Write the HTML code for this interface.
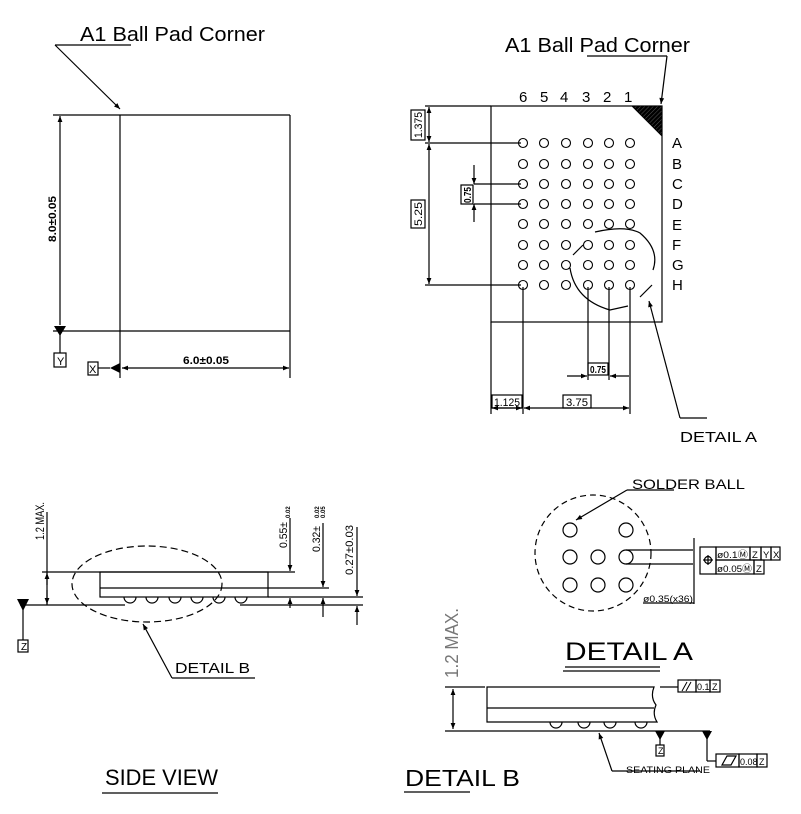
<!DOCTYPE html>
<html><head><meta charset="utf-8"><style>
html,body{margin:0;padding:0;background:#fff;}
svg{display:block;font-family:"Liberation Sans",sans-serif;}
</style></head><body>
<svg width="801" height="814" viewBox="0 0 801 814" xmlns="http://www.w3.org/2000/svg">
<defs>
<marker id="a" viewBox="0 0 10 10" refX="10" refY="5" markerWidth="8" markerHeight="6" orient="auto-start-reverse" markerUnits="userSpaceOnUse"><path d="M0,1 L10,5 L0,9 z" fill="#000"/></marker>
<pattern id="h" width="3" height="3" patternUnits="userSpaceOnUse" patternTransform="rotate(45)"><rect width="3" height="3" fill="#000"/><line x1="0" y1="0" x2="0" y2="3" stroke="#555" stroke-width="1"/></pattern>
<g id="row"><circle cx="523" cy="0" r="4.5"/><circle cx="544" cy="0" r="4.5"/><circle cx="566" cy="0" r="4.5"/><circle cx="588" cy="0" r="4.5"/><circle cx="609" cy="0" r="4.5"/><circle cx="630" cy="0" r="4.5"/></g>
</defs>
<g stroke="#000" stroke-width="1.2" fill="none">
<line x1="55" y1="45" x2="131" y2="45"/>
<line x1="55" y1="45" x2="120" y2="109" marker-end="url(#a)"/>
<line x1="53" y1="115" x2="290" y2="115"/>
<line x1="53" y1="331" x2="290" y2="331"/>
<line x1="120" y1="115" x2="120" y2="378"/>
<line x1="290" y1="115" x2="290" y2="378"/>
<line x1="60" y1="116" x2="60" y2="325" marker-start="url(#a)"/>
<line x1="60" y1="331" x2="60" y2="353"/>
<rect x="54" y="353" width="12" height="14"/>
<rect x="88" y="362" width="10" height="13"/>
<line x1="98" y1="368" x2="110" y2="368"/>
<line x1="122" y1="368" x2="289" y2="368" marker-start="url(#a)" marker-end="url(#a)"/>
</g>
<path d="M54,326 L66,326 L60,336 z" fill="#000"/>
<path d="M110,368 L120,363 L120,373 z" fill="#000"/>
<text x="80" y="41" font-size="20" textLength="185" lengthAdjust="spacingAndGlyphs">A1 Ball Pad Corner</text>
<text x="183" y="364" font-size="11" font-weight="bold" textLength="46" lengthAdjust="spacingAndGlyphs">6.0±0.05</text>
<text transform="translate(56,242) rotate(-90)" font-size="11" font-weight="bold" textLength="46" lengthAdjust="spacingAndGlyphs">8.0±0.05</text>
<text x="57" y="365" font-size="11">Y</text>
<text x="89" y="373" font-size="11">X</text>

<!-- TOP RIGHT VIEW -->
<text x="505" y="52" font-size="20" textLength="185" lengthAdjust="spacingAndGlyphs">A1 Ball Pad Corner</text>
<g stroke="#000" stroke-width="1.2" fill="none">
<line x1="587" y1="56" x2="667" y2="56"/>
<line x1="667" y1="56" x2="661" y2="104" marker-end="url(#a)"/>
<rect x="491" y="106" width="171" height="216"/>
<line x1="425" y1="106" x2="491" y2="106"/>
<line x1="425" y1="143" x2="521" y2="143"/>
<line x1="425" y1="285" x2="521" y2="285"/>
<line x1="429" y1="107" x2="429" y2="142" marker-start="url(#a)" marker-end="url(#a)"/>
<line x1="429" y1="144" x2="429" y2="284" marker-start="url(#a)" marker-end="url(#a)"/>
<rect x="411" y="110" width="14" height="30"/>
<rect x="411" y="200" width="14" height="28"/>
<line x1="474" y1="165" x2="474" y2="184" marker-end="url(#a)"/>
<line x1="474" y1="222" x2="474" y2="204" marker-end="url(#a)"/>
<line x1="474" y1="184" x2="521" y2="184"/>
<line x1="474" y1="204" x2="521" y2="204"/>
<rect x="461" y="185" width="12" height="19"/>
<line x1="491" y1="322" x2="491" y2="414"/>
<line x1="523" y1="287" x2="523" y2="414"/>
<line x1="630" y1="287" x2="630" y2="414"/>
<line x1="588" y1="287" x2="588" y2="380"/>
<line x1="609" y1="287" x2="609" y2="380"/>
<line x1="567" y1="376" x2="587" y2="376" marker-end="url(#a)"/>
<line x1="629" y1="376" x2="610" y2="376" marker-end="url(#a)"/>
<rect x="588" y="363" width="20" height="12"/>
<line x1="492" y1="408" x2="522" y2="408" marker-start="url(#a)" marker-end="url(#a)"/>
<line x1="524" y1="408" x2="629" y2="408" marker-start="url(#a)" marker-end="url(#a)"/>
<rect x="492" y="395" width="30" height="13"/>
<rect x="563" y="395" width="28" height="13"/>
<path d="M595,232 Q625,225 640,233 Q660,250 653,270"/>
<path d="M570,268 Q575,300 610,310 L628,306"/>
<line x1="573" y1="255" x2="583" y2="245"/>
<line x1="640" y1="297" x2="652" y2="285"/>
<line x1="680" y1="418" x2="649" y2="301" marker-end="url(#a)"/>
<line x1="680" y1="418" x2="707" y2="418"/>
</g>
<path d="M632,106 L662,106 L662,136 z" fill="url(#h)" stroke="#000"/>
<g stroke="#000" stroke-width="1.1" fill="none">
<use href="#row" y="143"/><use href="#row" y="164"/><use href="#row" y="184"/><use href="#row" y="204"/><use href="#row" y="224"/><use href="#row" y="245"/><use href="#row" y="265"/><use href="#row" y="285"/>
</g>
<g font-size="15" fill="#000">
<text x="519" y="102">6</text><text x="540" y="102">5</text><text x="560" y="102">4</text><text x="582" y="102">3</text><text x="603" y="102">2</text><text x="624" y="102">1</text>
<text x="672" y="148">A</text><text x="672" y="169">B</text><text x="672" y="189">C</text><text x="672" y="209">D</text><text x="672" y="230">E</text><text x="672" y="250">F</text><text x="672" y="270">G</text><text x="672" y="290">H</text>
<text x="680" y="442" textLength="77" lengthAdjust="spacingAndGlyphs">DETAIL A</text>
</g>
<g font-size="11" fill="#000">
<text transform="translate(422,138) rotate(-90)" textLength="26" lengthAdjust="spacingAndGlyphs">1.375</text>
<text transform="translate(422,226) rotate(-90)" textLength="24" lengthAdjust="spacingAndGlyphs">5.25</text>
<text transform="translate(471,203) rotate(-90)" font-size="10" font-weight="bold" textLength="16" lengthAdjust="spacingAndGlyphs">0.75</text>
<text x="590" y="373" font-size="10" font-weight="bold" textLength="16" lengthAdjust="spacingAndGlyphs">0.75</text>
<text x="494" y="406" textLength="26" lengthAdjust="spacingAndGlyphs">1.125</text>
<text x="566" y="406" textLength="22" lengthAdjust="spacingAndGlyphs">3.75</text>
</g>

<!-- SIDE VIEW -->
<g stroke="#000" stroke-width="1.2" fill="none">
<line x1="42" y1="572" x2="295" y2="572"/>
<line x1="20" y1="605" x2="125" y2="605"/>
<line x1="240" y1="605" x2="363" y2="605"/>
<rect x="100" y="572" width="168" height="25"/>
<line x1="100" y1="588" x2="329" y2="588"/>
<line x1="268" y1="597" x2="363" y2="597"/>
<line x1="47" y1="512" x2="47" y2="605"/>
<line x1="47" y1="590" x2="47" y2="604" marker-end="url(#a)"/>
<line x1="47" y1="585" x2="47" y2="573" marker-end="url(#a)"/>
<path d="M124,597 a6,6 0 0 0 12,0 M146,597 a6,6 0 0 0 12,0 M169,597 a6,6 0 0 0 12,0 M191,597 a6,6 0 0 0 12,0 M213,597 a6,6 0 0 0 12,0 M235,597 a6,6 0 0 0 12,0"/>
<line x1="290" y1="518" x2="290" y2="571" marker-end="url(#a)"/>
<line x1="290" y1="608" x2="290" y2="598" marker-end="url(#a)"/>
<line x1="323" y1="523" x2="323" y2="587" marker-end="url(#a)"/>
<line x1="323" y1="617" x2="323" y2="598" marker-end="url(#a)"/>
<line x1="357" y1="527" x2="357" y2="596" marker-end="url(#a)"/>
<line x1="357" y1="625" x2="357" y2="606" marker-end="url(#a)"/>
<line x1="23" y1="605" x2="23" y2="640"/>
<rect x="18" y="640" width="10" height="12"/>
<ellipse cx="147" cy="584" rx="75" ry="38" stroke-dasharray="7,4"/>
<line x1="172" y1="678" x2="143" y2="624" marker-end="url(#a)"/>
<line x1="172" y1="678" x2="255" y2="678"/>
<line x1="102" y1="793" x2="218" y2="793"/>
</g>
<path d="M17,599 L29,599 L23,611 z" fill="#000"/>
<g fill="#000">
<text transform="translate(44,540) rotate(-90)" font-size="12" textLength="38" lengthAdjust="spacingAndGlyphs">1.2 MAX.</text>
<text transform="translate(287,548) rotate(-90)" font-size="11" textLength="26" lengthAdjust="spacingAndGlyphs">0.55±</text>
<text transform="translate(320,552) rotate(-90)" font-size="11" textLength="26" lengthAdjust="spacingAndGlyphs">0.32±</text>
<text transform="translate(353,575) rotate(-90)" font-size="11" textLength="50" lengthAdjust="spacingAndGlyphs">0.27±0.03</text>
<text transform="translate(290,518) rotate(-90)" font-size="6" font-weight="bold">0.02</text>
<text transform="translate(319,518) rotate(-90)" font-size="6" font-weight="bold">0.02</text>
<text transform="translate(325,518) rotate(-90)" font-size="6" font-weight="bold">0.05</text>
<text x="21" y="650" font-size="10">Z</text>
<text x="175" y="673" font-size="15" textLength="75" lengthAdjust="spacingAndGlyphs">DETAIL B</text>
<text x="105" y="785" font-size="22" textLength="113" lengthAdjust="spacingAndGlyphs">SIDE VIEW</text>
</g>

<!-- DETAIL A -->
<g stroke="#000" stroke-width="1.2" fill="none">
<line x1="627" y1="490" x2="674" y2="490"/>
<line x1="627" y1="490" x2="576" y2="520" marker-end="url(#a)"/>
<circle cx="593" cy="553" r="58" stroke-dasharray="6,4"/>
<circle cx="570" cy="530" r="7"/><circle cx="626" cy="530" r="7"/>
<circle cx="570" cy="557" r="7"/><circle cx="598" cy="557" r="7"/><circle cx="626" cy="557" r="7"/>
<circle cx="570" cy="585" r="7"/><circle cx="598" cy="585" r="7"/><circle cx="626" cy="585" r="7"/>
<line x1="626" y1="550" x2="693" y2="550"/>
<line x1="626" y1="564" x2="693" y2="564"/>
<line x1="694" y1="538" x2="694" y2="604"/>
<line x1="643" y1="603" x2="694" y2="603"/>
<rect x="700" y="547" width="16" height="27"/>
<rect x="716" y="547" width="34" height="13"/><rect x="750" y="547" width="11" height="13"/><rect x="761" y="547" width="10" height="13"/><rect x="771" y="547" width="9" height="13"/>
<rect x="716" y="560" width="38" height="14"/><rect x="754" y="560" width="10" height="14"/>
<circle cx="708" cy="560" r="3.5"/><line x1="703" y1="560" x2="713" y2="560"/><line x1="708" y1="555" x2="708" y2="565"/>
<line x1="565" y1="667" x2="660" y2="667"/><line x1="563" y1="671" x2="660" y2="671"/>
</g>
<g fill="#000">
<text x="632" y="489" font-size="14" textLength="113" lengthAdjust="spacingAndGlyphs">SOLDER BALL</text>
<text x="717" y="558" font-size="9.5" textLength="31" lengthAdjust="spacingAndGlyphs">ø0.1Ⓜ</text><text x="752" y="558" font-size="9.5">Z</text><text x="763" y="558" font-size="9.5">Y</text><text x="773" y="558" font-size="9.5">X</text>
<text x="717" y="572" font-size="9.5" textLength="35" lengthAdjust="spacingAndGlyphs">ø0.05Ⓜ</text><text x="756" y="572" font-size="9.5">Z</text>
<text x="643" y="602" font-size="9.5" textLength="50" lengthAdjust="spacingAndGlyphs">ø0.35(x36)</text>
<text x="565" y="660" font-size="25" textLength="128" lengthAdjust="spacingAndGlyphs">DETAIL  A</text>
</g>

<!-- DETAIL B -->
<g stroke="#000" stroke-width="1.2" fill="none">
<line x1="453" y1="689" x2="453" y2="729" marker-start="url(#a)" marker-end="url(#a)"/>
<line x1="445" y1="687" x2="485" y2="687"/>
<line x1="660" y1="687" x2="678" y2="687"/>
<path d="M487,687 L654,687 Q650,697 656,705 Q652,714 657,722 L487,722 z"/>
<line x1="487" y1="708" x2="654" y2="708"/>
<line x1="445" y1="731" x2="710" y2="731"/>
<path d="M550,722 a6,6 0 0 0 12,0 M578,722 a6,6 0 0 0 12,0 M604,722 a6,6 0 0 0 12,0 M635,722 a6,6 0 0 0 12,0"/>
<line x1="660" y1="731" x2="660" y2="745"/>
<rect x="656" y="745" width="8" height="11"/>
<line x1="707" y1="731" x2="707" y2="761"/>
<line x1="707" y1="761" x2="716" y2="761"/>
<rect x="716" y="754" width="23" height="13"/><rect x="739" y="754" width="18" height="13"/><rect x="757" y="754" width="10" height="13"/>
<path d="M722,765 L727,756 L736,756 L731,765 z"/>
<rect x="678" y="680" width="18" height="12"/><rect x="696" y="680" width="14" height="12"/><rect x="710" y="680" width="10" height="12"/>
<line x1="612" y1="771" x2="599" y2="733" marker-end="url(#a)"/>
<line x1="612" y1="771" x2="700" y2="771"/>
<line x1="404" y1="792" x2="470" y2="792"/>
</g>
<path d="M682,691 L687,682 M686,691 L691,682" stroke="#000"/>
<path d="M655,731 L665,731 L660,740 z" fill="#000"/>
<path d="M702,731 L712,731 L707,740 z" fill="#000"/>
<g fill="#000">
<text transform="translate(458,678) rotate(-90)" font-size="18" fill="#777" textLength="70" lengthAdjust="spacingAndGlyphs">1.2 MAX.</text>
<text x="697" y="690" font-size="9">0.1</text><text x="712" y="690" font-size="9">Z</text>
<text x="740" y="765" font-size="9">0.08</text><text x="759" y="765" font-size="9">Z</text>
<text x="658" y="754" font-size="9">Z</text>
<text x="626" y="773" font-size="9" textLength="84" lengthAdjust="spacingAndGlyphs">SEATING PLANE</text>
<text x="405" y="786" font-size="23" textLength="115" lengthAdjust="spacingAndGlyphs">DETAIL  B</text>
</g>
</svg>
</body></html>
